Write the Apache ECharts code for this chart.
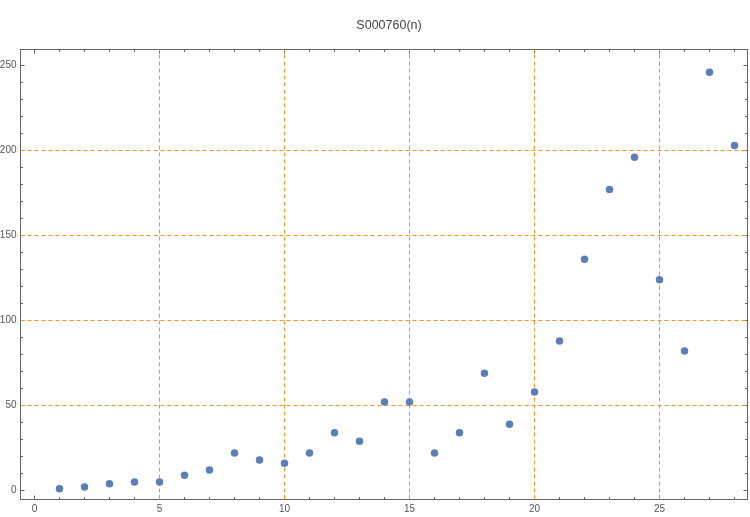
<!DOCTYPE html>
<html>
<head>
<meta charset="utf-8">
<script src="https://cdn.jsdelivr.net/npm/echarts@6/dist/echarts.min.js"></script>
<style>html,body{margin:0;padding:0;background:#fff}#c{width:750px;height:517px}</style>
</head>
<body>
<div id="c"></div>
<script>
const titleText = 'S000760(n)';
const nValues = [1,2,3,4,5,6,7,8,9,10,11,12,13,14,15,16,17,18,19,20,21,22,23,24,25,26,27,28];
const sValues = [1,2,4,5,5,9,12,22,18,16,22,34,29,52,52,22,34,69,39,58,88,136,177,196,124,82,246,203];
const xMajorTicks = [0,5,10,15,20,25];
const xMinorTicks = [0,1,2,3,4,5,6,7,8,9,10,11,12,13,14,15,16,17,18,19,20,21,22,23,24,25,26,27,28];
const yMajorTicks = [0,50,100,150,200,250];
const yMinorTicks = [0,10,20,30,40,50,60,70,80,90,100,110,120,130,140,150,160,170,180,190,200,210,220,230,240,250];
const xGridLines = [5,10,15,20,25];
const yGridLines = [50,100,150,200];

const X_MIN = -0.56, X_MAX = 28.52, Y_MIN = -5.294, Y_MAX = 259.412;
const axisColor = '#666';
const labelStyle = {color:'#555', fontSize:10, fontFamily:'Liberation Sans, Arial, sans-serif'};

function xAx(pos, ticks, len, showLine, showLabel){
  return {type:'value', position:pos, min:X_MIN, max:X_MAX,
    axisLine:{show:showLine, onZero:false, lineStyle:{color:axisColor, width:1}},
    axisTick:{show:true, inside:true, length:len, customValues:ticks, lineStyle:{color:axisColor}},
    axisLabel:Object.assign({show:showLabel, customValues:xMajorTicks, margin:5}, labelStyle),
    splitLine:{show:false}};
}
function yAx(pos, ticks, len, showLine, showLabel){
  return {type:'value', position:pos, min:Y_MIN, max:Y_MAX,
    axisLine:{show:showLine, onZero:false, lineStyle:{color:axisColor, width:1}},
    axisTick:{show:true, inside:true, length:len, customValues:ticks, lineStyle:{color:axisColor}},
    axisLabel:Object.assign({show:showLabel, customValues:yMajorTicks, margin:4}, labelStyle),
    splitLine:{show:false}};
}

const chart = echarts.init(document.getElementById('c'), null, {renderer:'canvas'});
const gridMarks = xGridLines.map(v => ({xAxis:v})).concat(yGridLines.map(v => ({yAxis:v})));
chart.setOption({
  animation:false,
  backgroundColor:'#fff',
  title:{text:titleText, left:384, top:14, textAlign:'center',
    textStyle:{color:'#444', fontSize:12.5, fontWeight:'normal', fontFamily:'Liberation Sans, Arial, sans-serif'}},
  grid:{left:20.5, right:2.5, top:49.5, bottom:17.5, containLabel:false, outerBoundsMode:'none'},
  xAxis:[
    xAx('bottom', xMajorTicks, 4, true, true),
    xAx('bottom', xMinorTicks, 2.5, false, false),
    xAx('top', xMajorTicks, 4, true, false),
    xAx('top', xMinorTicks, 2.5, false, false)
  ],
  yAxis:[
    yAx('left', yMajorTicks, 4, true, true),
    yAx('left', yMinorTicks, 2.5, false, false),
    yAx('right', yMajorTicks, 4, true, false),
    yAx('right', yMinorTicks, 2.5, false, false)
  ],
  series:[{
    type:'scatter', xAxisIndex:0, yAxisIndex:0,
    data:nValues.map((n,i)=>[n, sValues[i]]),
    symbol:'circle', symbolSize:7.5,
    itemStyle:{color:'#5B7EB8', opacity:1},
    z:5,
    markLine:{silent:true, symbol:['none','none'], label:{show:false},
      lineStyle:{color:'#F7931E', type:[4,3], width:1},
      data:gridMarks, z:1}
  }]
});
</script>
</body>
</html>
